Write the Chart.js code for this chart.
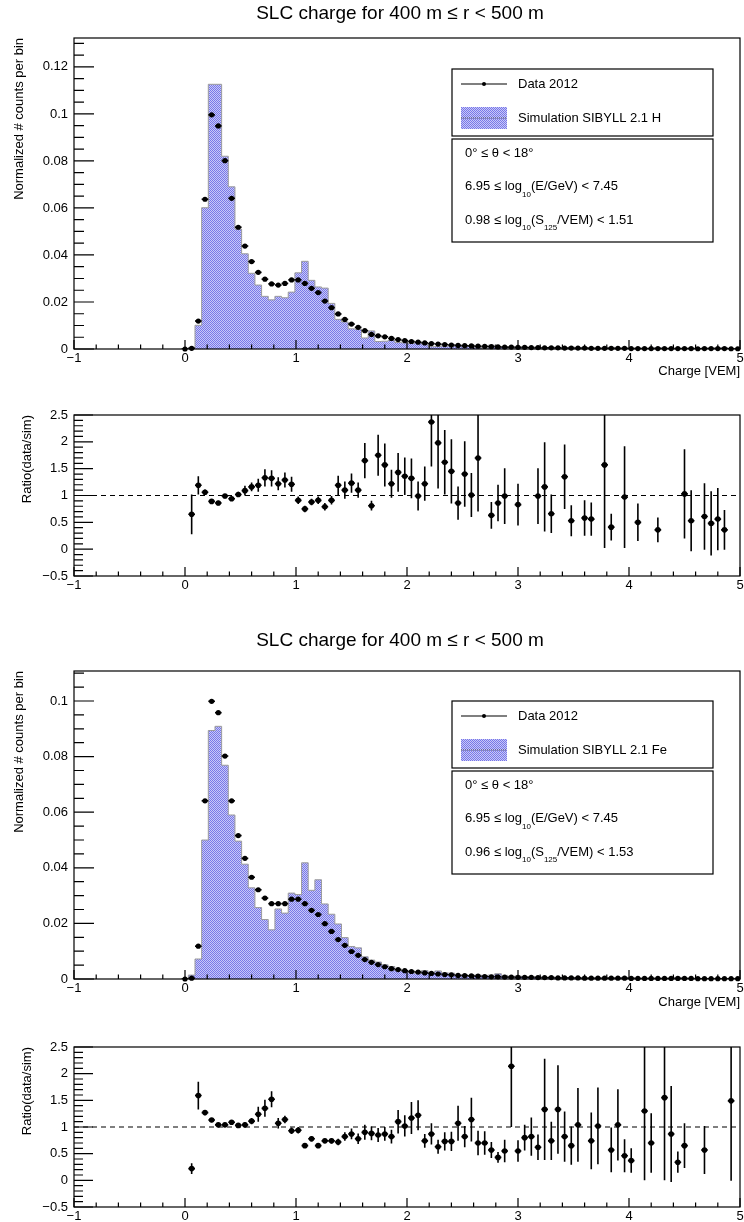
<!DOCTYPE html>
<html>
<head>
<meta charset="utf-8">
<title>SLC charge for 400 m ≤ r &lt; 500 m</title>
<script src="https://cdn.jsdelivr.net/npm/chart.js@4.4.1/dist/chart.umd.min.js"></script>
<style>
  body { margin: 0; background: #fff; }
  #page { position: relative; width: 744px; height: 1222px; overflow: hidden; }
  #page canvas { position: absolute; left: 0; }
</style>
</head>
<body>
<div id="page">
  <canvas id="histH" width="744" height="380" style="top:0px"></canvas>
  <canvas id="ratioH" width="744" height="230" style="top:380px"></canvas>
  <canvas id="histFe" width="744" height="400" style="top:610px"></canvas>
  <canvas id="ratioFe" width="744" height="212" style="top:1010px"></canvas>
</div>
<script>
const FONT = "'Liberation Sans', Arial, Helvetica, sans-serif";
Chart.defaults.font.family = FONT;
Chart.defaults.font.size = 13;
Chart.defaults.color = '#000';

// bins: 0.06 VEM wide, centres
const binWidth = 0.06;
const binCenters = [
  0, 0.06, 0.12, 0.18, 0.24, 0.3, 0.36, 0.42, 0.48, 0.54,
  0.6, 0.66, 0.72, 0.78, 0.84, 0.9, 0.96, 1.02, 1.08, 1.14,
  1.2, 1.26, 1.32, 1.38, 1.44, 1.5, 1.56, 1.62, 1.68, 1.74,
  1.8, 1.86, 1.92, 1.98, 2.04, 2.1, 2.16, 2.22, 2.28, 2.34,
  2.4, 2.46, 2.52, 2.58, 2.64, 2.7, 2.76, 2.82, 2.88, 2.94,
  3, 3.06, 3.12, 3.18, 3.24, 3.3, 3.36, 3.42, 3.48, 3.54,
  3.6, 3.66, 3.72, 3.78, 3.84, 3.9, 3.96, 4.02, 4.08, 4.14,
  4.2, 4.26, 4.32, 4.38, 4.44, 4.5, 4.56, 4.62, 4.68, 4.74,
  4.8, 4.86, 4.92, 4.98
];

// tick labels
const xTicks = [-1, 0, 1, 2, 3, 4, 5];
const yTicksH = [0, 0.02, 0.04, 0.06, 0.08, 0.1, 0.12];
const yTicksFe = [0, 0.02, 0.04, 0.06, 0.08, 0.1];
const yTicksRatio = [-0.5, 0, 0.5, 1, 1.5, 2, 2.5];

// --- upper pair: proton simulation ---
const dataH = [
  0, 0.0003, 0.0119, 0.0637, 0.0996, 0.0949, 0.0801, 0.0641, 0.0518, 0.0438,
  0.0372, 0.0326, 0.0297, 0.0277, 0.0272, 0.0279, 0.0294, 0.0294, 0.0279, 0.0258,
  0.0240, 0.0204, 0.0176, 0.0149, 0.0126, 0.0106, 0.0092, 0.0078, 0.0062, 0.0056,
  0.0052, 0.0045, 0.0040, 0.0036, 0.0032, 0.0029, 0.0026, 0.0023, 0.0021, 0.0019,
  0.0017, 0.0015, 0.0014, 0.0013, 0.0012, 0.0011, 0.0010, 0.0009, 0.0008, 0.0008,
  0.0007, 0.0007, 0.0006, 0.0006, 0.0005, 0.0005, 0.0005, 0.0004, 0.0004, 0.0004,
  0.0004, 0.0003, 0.0003, 0.0003, 0.0003, 0.0003, 0.0003, 0.0002, 0.0002, 0.0002,
  0.0002, 0.0002, 0.0002, 0.0002, 0.0002, 0.0002, 0.0002, 0.0001, 0.0002, 0.0002,
  0.0002, 0.0002, 0.0001, 0.0001
];
const simH = [
  0, 0.0005, 0.0101, 0.0601, 0.1126, 0.1126, 0.0820, 0.0690, 0.0510, 0.0405,
  0.0322, 0.0272, 0.0224, 0.0209, 0.0224, 0.0218, 0.0242, 0.0324, 0.0373, 0.0292,
  0.0264, 0.0259, 0.0194, 0.0126, 0.0115, 0.0086, 0.0084, 0.0047, 0.0077, 0.0032,
  0.0033, 0.0037, 0.0028, 0.0026, 0.0024, 0.0029, 0.0021, 0.0010, 0.0011, 0.0012,
  0.0012, 0.0017, 0.0010, 0.0013, 0.0007, 0, 0.0016, 0.0010, 0.0008, 0,
  0.0008, 0, 0, 0.0006, 0.0004, 0.0008, 0, 0.0003, 0.0008, 0,
  0.0007, 0.0005, 0, 0.0002, 0.0007, 0, 0.0003, 0, 0.0004, 0,
  0, 0.0006, 0, 0, 0, 0.0002, 0.0004, 0, 0.0003, 0.0004,
  0.0004, 0.0005, 0, 0
];
const ratioH = [
  null, 0.65, 1.19, 1.06, 0.89, 0.86, 0.99, 0.94, 1.02, 1.09,
  1.16, 1.19, 1.33, 1.32, 1.22, 1.29, 1.21, 0.91, 0.75, 0.88,
  0.91, 0.79, 0.91, 1.19, 1.10, 1.23, 1.10, 1.65, 0.81, 1.75,
  1.57, 1.22, 1.43, 1.36, 1.32, 0.99, 1.22, 2.37, 1.98, 1.62,
  1.45, 0.86, 1.40, 1.01, 1.70, null, 0.63, 0.86, 0.99, null,
  0.83, null, null, 0.99, 1.16, 0.66, null, 1.35, 0.53, null,
  0.58, 0.56, null, 1.57, 0.41, null, 0.97, null, 0.50, null,
  null, 0.36, null, null, null, 1.03, 0.53, null, 0.61, 0.48,
  0.56, 0.36, null, null
];
const ratioErrH = [
  null, 0.37, 0.17, 0.05, 0.04, 0.04, 0.04, 0.04, 0.05, 0.09,
  0.08, 0.12, 0.16, 0.15, 0.12, 0.14, 0.14, 0.07, 0.06, 0.06,
  0.07, 0.07, 0.08, 0.18, 0.16, 0.18, 0.14, 0.33, 0.09, 0.38,
  0.40, 0.26, 0.36, 0.35, 0.37, 0.27, 0.32, 0.83, 0.85, 0.60,
  0.60, 0.31, 0.61, 0.41, 1.00, null, 0.25, 0.34, 0.52, null,
  0.39, null, null, 0.52, 0.83, 0.36, null, 0.60, 0.29, null,
  0.33, 0.31, null, 1.55, 0.25, null, 0.95, null, 0.35, null,
  null, 0.23, null, null, null, 0.83, 0.57, null, 0.62, 0.60,
  0.58, 0.37, null, null
];

// --- lower pair: iron simulation ---
const dataFe = [
  0, 0.0003, 0.0118, 0.0641, 0.0999, 0.0958, 0.0802, 0.0641, 0.0516, 0.0434,
  0.0366, 0.0321, 0.0291, 0.0271, 0.0271, 0.0271, 0.0287, 0.0287, 0.0271, 0.0247,
  0.0232, 0.0199, 0.0171, 0.0142, 0.0121, 0.0099, 0.0085, 0.0070, 0.0060, 0.0052,
  0.0044, 0.0037, 0.0034, 0.0030, 0.0027, 0.0025, 0.0022, 0.0020, 0.0018, 0.0016,
  0.0015, 0.0013, 0.0012, 0.0011, 0.0010, 0.0009, 0.0008, 0.0008, 0.0007, 0.0007,
  0.0006, 0.0006, 0.0006, 0.0005, 0.0005, 0.0005, 0.0004, 0.0004, 0.0004, 0.0004,
  0.0003, 0.0003, 0.0003, 0.0003, 0.0003, 0.0003, 0.0003, 0.0002, 0.0002, 0.0002,
  0.0002, 0.0002, 0.0002, 0.0002, 0.0002, 0.0002, 0.0002, 0.0001, 0.0001, 0.0001,
  0.0001, 0.0001, 0.0001, 0.0001
];
const simFe = [
  0, 0.0014, 0.0072, 0.0500, 0.0894, 0.0909, 0.0769, 0.0590, 0.0496, 0.0413,
  0.0328, 0.0257, 0.0214, 0.0177, 0.0252, 0.0237, 0.0309, 0.0304, 0.0418, 0.0319,
  0.0357, 0.0270, 0.0233, 0.0198, 0.0149, 0.0117, 0.0112, 0.0080, 0.0068, 0.0061,
  0.0051, 0.0045, 0.0031, 0.0029, 0.0023, 0.0020, 0.0030, 0.0023, 0.0029, 0.0022,
  0.0021, 0.0012, 0.0015, 0.0010, 0.0014, 0.0013, 0.0014, 0.0019, 0.0013, 0.0003,
  0.0011, 0.0008, 0.0007, 0.0008, 0.0004, 0.0007, 0.0003, 0.0005, 0.0006, 0.0004,
  0, 0.0004, 0.0003, 0, 0.0005, 0.0003, 0.0006, 0.0005, 0, 0.0002,
  0.0003, 0, 0.0001, 0.0002, 0.0006, 0.0003, 0, 0, 0.0002, 0,
  0, 0, 0.0001, 0
];
const ratioFe = [
  null, 0.22, 1.59, 1.27, 1.13, 1.04, 1.04, 1.09, 1.03, 1.04,
  1.11, 1.24, 1.35, 1.52, 1.07, 1.14, 0.93, 0.94, 0.65, 0.78,
  0.65, 0.74, 0.74, 0.72, 0.82, 0.87, 0.78, 0.90, 0.88, 0.85,
  0.87, 0.82, 1.10, 1.02, 1.17, 1.22, 0.74, 0.87, 0.63, 0.73,
  0.73, 1.07, 0.82, 1.14, 0.70, 0.70, 0.57, 0.43, 0.55, 2.14,
  0.55, 0.80, 0.82, 0.62, 1.33, 0.74, 1.33, 0.82, 0.65, 1.04,
  null, 0.74, 1.02, null, 0.57, 1.04, 0.46, 0.37, null, 1.30,
  0.70, null, 1.55, 0.87, 0.34, 0.65, null, null, 0.57, null,
  null, null, 1.49, null
];
const ratioErrFe = [
  null, 0.10, 0.26, 0.05, 0.04, 0.04, 0.04, 0.04, 0.04, 0.05,
  0.06, 0.14, 0.16, 0.15, 0.10, 0.07, 0.06, 0.06, 0.04, 0.05,
  0.04, 0.04, 0.05, 0.06, 0.08, 0.10, 0.10, 0.14, 0.13, 0.13,
  0.13, 0.13, 0.22, 0.20, 0.30, 0.28, 0.13, 0.20, 0.13, 0.17,
  0.18, 0.33, 0.20, 0.41, 0.23, 0.22, 0.15, 0.10, 0.21, 1.14,
  0.20, 0.24, 0.36, 0.24, 0.95, 0.36, 0.83, 0.47, 0.36, 0.69,
  null, 0.53, 0.72, null, 0.42, 0.67, 0.31, 0.23, null, 1.30,
  0.56, null, 1.55, 0.90, 0.20, 0.42, null, null, 0.45, null,
  null, null, 1.50, null
];

// texts
const titleText = 'SLC charge for 400 m \u2264 r < 500 m';
const dataLabel = 'Data 2012';
const simLabelH = 'Simulation SIBYLL 2.1 H';
const simLabelFe = 'Simulation SIBYLL 2.1 Fe';
// [text, isSubscript]
const cutsH = [
  [['0\u00b0 \u2264 \u03b8 < 18\u00b0', 0]],
  [['6.95 \u2264 log', 0], ['10', 1], ['(E/GeV) < 7.45', 0]],
  [['0.98 \u2264 log', 0], ['10', 1], ['(S', 0], ['125', 1], ['/VEM) < 1.51', 0]]
];
const cutsFe = [
  [['0\u00b0 \u2264 \u03b8 < 18\u00b0', 0]],
  [['6.95 \u2264 log', 0], ['10', 1], ['(E/GeV) < 7.45', 0]],
  [['0.96 \u2264 log', 0], ['10', 1], ['(S', 0], ['125', 1], ['/VEM) < 1.53', 0]]
];

// dotted blue fill like the ROOT hatch
function simPattern(ctx) {
  const c = document.createElement('canvas');
  c.width = 2; c.height = 2;
  const g = c.getContext('2d');
  g.fillStyle = '#c8c8f8';
  g.fillRect(0, 0, 2, 2);
  g.fillStyle = '#7878e8';
  g.fillRect(0, 0, 1, 1);
  g.fillRect(1, 1, 1, 1);
  return ctx.createPattern(c, 'repeat');
}
const pattern = simPattern(document.getElementById('histH').getContext('2d'));

const legends = {
  H: { top: 69, sim: simLabelH, cuts: cutsH },
  Fe: { top: 91, sim: simLabelFe, cuts: cutsFe }
};

const fmt = v => (v < 0 ? '\u2212' + (-v) : String(v));
const isMult = (v, step) => Math.abs(v / step - Math.round(v / step)) < 1e-6;

function drawRich(ctx, parts, x, y) {
  parts.forEach(([txt, sub]) => {
    ctx.font = (sub ? '8px ' : '13px ') + FONT;
    ctx.fillText(txt, x, sub ? y + 8 : y);
    x += ctx.measureText(txt).width;
  });
}

function drawLegend(ctx, L) {
  const left = 452, right = 713, t = L.top;
  ctx.lineWidth = 1.2;
  ctx.strokeStyle = '#000';
  ctx.strokeRect(left, t, right - left, 67);
  ctx.strokeRect(left, t + 70, right - left, 103);
  ctx.textAlign = 'left';
  ctx.textBaseline = 'middle';
  ctx.font = '13px ' + FONT;
  // data entry
  ctx.beginPath();
  ctx.moveTo(461, t + 15); ctx.lineTo(507, t + 15);
  ctx.stroke();
  ctx.beginPath();
  ctx.arc(484, t + 15, 2, 0, 2 * Math.PI);
  ctx.fill();
  ctx.fillText(dataLabel, 518, t + 15);
  // simulation entry
  ctx.fillStyle = pattern;
  ctx.fillRect(461, t + 38, 46, 22);
  ctx.fillStyle = '#000';
  ctx.strokeStyle = '#555';
  ctx.lineWidth = 1;
  ctx.setLineDash([1, 1]);
  ctx.beginPath();
  ctx.moveTo(461, t + 49); ctx.lineTo(507, t + 49);
  ctx.stroke();
  ctx.setLineDash([]);
  ctx.fillText(L.sim, 518, t + 49);
  // cuts
  L.cuts.forEach((row, i) => drawRich(ctx, row, 465, t + 84 + i * 33.5));
}

// ROOT-like frame, inward ticks, titles
const rootPad = {
  id: 'rootPad',
  afterDatasetsDraw(chart, args, o) {
    const ctx = chart.ctx, a = chart.chartArea;
    const xs = chart.scales.x, ys = chart.scales.y;
    // error bars
    ctx.save();
    ctx.beginPath();
    ctx.rect(a.left, a.top, a.right - a.left, a.bottom - a.top);
    ctx.clip();
    ctx.strokeStyle = '#000';
    ctx.lineWidth = 1.6;
    chart.data.datasets.forEach((ds, i) => {
      if (!ds.errorBars) return;
      const meta = chart.getDatasetMeta(i);
      ds.data.forEach((p, j) => {
        const el = meta.data[j];
        ctx.beginPath();
        ctx.moveTo(xs.getPixelForValue(p.x - binWidth / 2), el.y);
        ctx.lineTo(xs.getPixelForValue(p.x + binWidth / 2), el.y);
        if (p.ey) {
          ctx.moveTo(el.x, ys.getPixelForValue(p.y + p.ey));
          ctx.lineTo(el.x, ys.getPixelForValue(p.y - p.ey));
        }
        ctx.stroke();
      });
    });
    ctx.restore();

    // frame and ticks
    ctx.save();
    ctx.strokeStyle = '#000';
    ctx.lineWidth = 1.2;
    ctx.strokeRect(a.left, a.top, a.right - a.left, a.bottom - a.top);
    ctx.beginPath();
    const nx = Math.round((xs.max - xs.min) / o.xMinor);
    for (let i = 0; i <= nx; i++) {
      const v = xs.min + i * o.xMinor;
      const px = xs.getPixelForValue(v);
      ctx.moveTo(px, a.bottom);
      ctx.lineTo(px, a.bottom - (isMult(v, 1) ? o.xMajorLen : o.xMinorLen));
    }
    const ny = Math.floor((ys.max - ys.min) / o.yMinor + 1e-6);
    for (let i = 0; i <= ny; i++) {
      const v = ys.min + i * o.yMinor;
      const py = ys.getPixelForValue(v);
      ctx.moveTo(a.left, py);
      ctx.lineTo(a.left + (isMult(v, o.yMajor) ? o.yMajorLen : o.yMinorLen), py);
    }
    ctx.stroke();
    ctx.restore();
  },
  afterDraw(chart, args, o) {
    const ctx = chart.ctx, a = chart.chartArea;
    ctx.save();
    ctx.fillStyle = '#000';
    ctx.textBaseline = 'middle';
    if (o.title) {
      ctx.font = o.titleSize + 'px ' + FONT;
      ctx.textAlign = 'center';
      ctx.fillText(o.title, o.titleX, o.titleY);
    }
    if (o.yTitle) {
      ctx.save();
      ctx.translate(o.yTitleX, a.top);
      ctx.rotate(-Math.PI / 2);
      ctx.font = '13px ' + FONT;
      ctx.textAlign = 'right';
      ctx.fillText(o.yTitle, 0, 0);
      ctx.restore();
    }
    if (o.xTitle) {
      ctx.font = '13px ' + FONT;
      ctx.textAlign = 'right';
      ctx.fillText(o.xTitle, a.right, o.xTitleY);
    }
    if (o.legend) drawLegend(ctx, legends[o.legend]);
    ctx.restore();
  }
};
Chart.register(rootPad);

function axes(yMin, yMax, yTicks, plotBottom, canvasH) {
  return {
    x: {
      type: 'linear', min: -1, max: 5,
      grid: { display: false, drawTicks: false },
      border: { display: false },
      ticks: { padding: 2, maxRotation: 0, autoSkip: false, callback: fmt },
      afterBuildTicks: s => { s.ticks = xTicks.map(v => ({ value: v })); },
      afterFit: s => { s.height = canvasH - plotBottom; s.paddingLeft = 0; s.paddingRight = 0; }
    },
    y: {
      type: 'linear', min: yMin, max: yMax,
      grid: { display: false, drawTicks: false },
      border: { display: false },
      ticks: { padding: 6, autoSkip: false, callback: fmt },
      afterBuildTicks: s => { s.ticks = yTicks.map(v => ({ value: v })); },
      afterFit: s => { s.width = 74; s.paddingTop = 0; s.paddingBottom = 0; }
    }
  };
}

function stepPoints(values) {
  const pts = binCenters.map((c, k) => ({ x: c - binWidth / 2, y: values[k] }));
  pts.push({ x: binCenters[binCenters.length - 1] + binWidth / 2, y: values[values.length - 1] });
  return pts;
}

function histChart(id, data, sim, simLabel, yMax, yTicks, plotTop, plotBottom, canvasH, pad) {
  return new Chart(document.getElementById(id), {
    type: 'scatter',
    data: {
      datasets: [
        {
          label: dataLabel,
          data: binCenters.map((c, k) => ({ x: c, y: data[k] })),
          errorBars: true,
          pointRadius: 2.6, pointBackgroundColor: '#000', pointBorderWidth: 0,
          clip: false
        },
        {
          type: 'line',
          label: simLabel,
          data: stepPoints(sim),
          stepped: true,
          fill: 'origin',
          backgroundColor: pattern,
          borderColor: '#9c9c9c',
          borderWidth: 1,
          pointRadius: 0
        }
      ]
    },
    options: {
      responsive: false, animation: false, devicePixelRatio: 1, events: [],
      layout: { padding: { left: 0, right: 2, top: plotTop, bottom: 0 } },
      scales: axes(0, yMax, yTicks, plotBottom, canvasH),
      plugins: {
        legend: { display: false }, tooltip: { enabled: false },
        rootPad: Object.assign({
          xMinor: 0.2, xMajorLen: 9, xMinorLen: 4.5,
          yMajor: 0.02, yMinor: 0.005, yMajorLen: 20, yMinorLen: 10,
          titleSize: 19, titleX: 400,
          yTitle: 'Normalized # counts per bin', yTitleX: 19,
          xTitle: 'Charge [VEM]'
        }, pad)
      }
    }
  });
}

function ratioChart(id, ratio, err, plotTop, plotBottom, canvasH) {
  const pts = [];
  binCenters.forEach((c, k) => {
    if (ratio[k] !== null) pts.push({ x: c, y: ratio[k], ey: err[k] });
  });
  return new Chart(document.getElementById(id), {
    type: 'scatter',
    data: {
      datasets: [
        {
          label: 'data/sim',
          data: pts,
          errorBars: true,
          pointRadius: 2.8, pointBackgroundColor: '#000', pointBorderWidth: 0,
          clip: false
        },
        {
          type: 'line',
          label: 'unity',
          data: [{ x: -1, y: 1 }, { x: 5, y: 1 }],
          borderColor: '#000', borderWidth: 1.2, borderDash: [5, 4],
          pointRadius: 0, fill: false
        }
      ]
    },
    options: {
      responsive: false, animation: false, devicePixelRatio: 1, events: [],
      layout: { padding: { left: 0, right: 2, top: plotTop, bottom: 0 } },
      scales: axes(-0.5, 2.5, yTicksRatio, plotBottom, canvasH),
      plugins: {
        legend: { display: false }, tooltip: { enabled: false },
        rootPad: {
          xMinor: 0.2, xMajorLen: 9, xMinorLen: 4.5,
          yMajor: 0.5, yMinor: 0.1, yMajorLen: 19, yMinorLen: 9,
          yTitle: 'Ratio(data/sim)', yTitleX: 27
        }
      }
    }
  });
}

histChart('histH', dataH, simH, simLabelH, 0.1323, yTicksH, 38, 349, 380,
  { title: titleText, titleY: 14, xTitleY: 371, legend: 'H' });
ratioChart('ratioH', ratioH, ratioErrH, 35, 196, 230);
histChart('histFe', dataFe, simFe, simLabelFe, 0.1108, yTicksFe, 61, 369, 400,
  { title: titleText, titleY: 31, xTitleY: 392, legend: 'Fe' });
ratioChart('ratioFe', ratioFe, ratioErrFe, 37, 197, 212);
</script>
</body>
</html>
